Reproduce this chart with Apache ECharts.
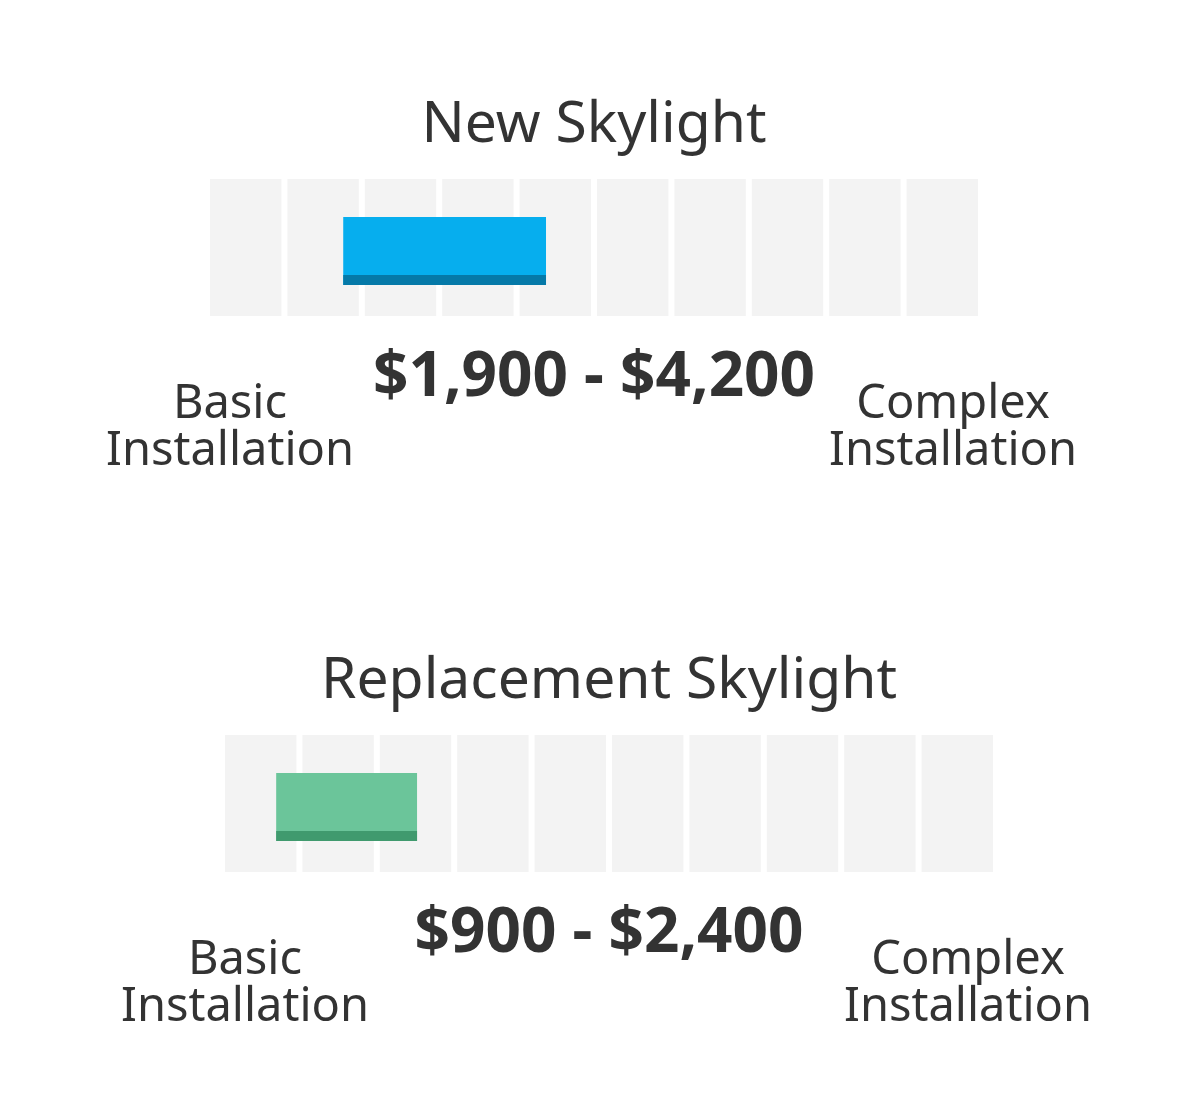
<!DOCTYPE html>
<html>
<head>
<meta charset="utf-8">
<script src="https://cdn.jsdelivr.net/npm/echarts@6/dist/echarts.min.js"></script>
<style>
  html, body { margin: 0; padding: 0; background: #fff; }
  #chart { width: 1200px; height: 1120px; }
</style>
</head>
<body>
<div id="chart"></div>
<script>
// panel data
var panelTitles = ['New Skylight', 'Replacement Skylight'];
var priceLow = [1900, 900];
var priceHigh = [4200, 2400];
// bar extent, measured in cells along the 0..10 scale
var barStart = [1.76, 0.70];
var barEnd = [4.38, 2.52];
var cells = [0, 1, 2, 3, 4, 5, 6, 7, 8, 9];
var leftLabel = 'Basic\nInstallation';
var rightLabel = 'Complex\nInstallation';

var barColors = ['#06aeee', '#6bc59a'];
var stripColors = ['#0579a8', '#409a6e'];

var panels = [
    {left: 207, top: 179},
    {left: 222, top: 735}
];
var gridW = 774, gridH = 137;

function money(v) {
    return '$' + v.toLocaleString('en-US')
}

var chart = echarts.init(document.getElementById('chart'));

var grids = [], xAxes = [], yAxes = [], series = [], graphics = [];

panels.forEach(function (p, i) {
    grids.push({left: p.left, top: p.top, width: gridW, height: gridH});
    xAxes.push({type: 'value', gridIndex: i, min: 0, max: 10, show: false});
    yAxes.push({type: 'value', gridIndex: i, min: 0, max: 1, show: false});

    // grey cells
    series.push({
        type: 'custom',
        xAxisIndex: i,
        yAxisIndex: i,
        silent: true,
        data: cells.map(function (c) { return [c]; }),
        renderItem: function (params, api) {
            var a = api.coord([api.value(0), 1]);
            var b = api.coord([api.value(0) + 1, 0]);
            return {
                type: 'rect',
                shape: {x: a[0] + 3, y: a[1], width: b[0] - a[0] - 6, height: b[1] - a[1]},
                style: {fill: '#f3f3f3'}
            };
        }
    });

    // price range bar with darker bottom strip
    series.push({
        type: 'custom',
        xAxisIndex: i,
        yAxisIndex: i,
        silent: true,
        data: [[barStart[i], barEnd[i]]],
        renderItem: function (params, api) {
            var tl = api.coord([api.value(0), 0.723]);
            var br = api.coord([api.value(1), 0.226]);
            var st = api.coord([api.value(0), 0.299]);
            return {
                type: 'group',
                children: [
                    {
                        type: 'rect',
                        shape: {x: tl[0], y: tl[1], width: br[0] - tl[0], height: br[1] - tl[1]},
                        style: {fill: barColors[i]}
                    },
                    {
                        type: 'rect',
                        shape: {x: tl[0], y: st[1], width: br[0] - tl[0], height: br[1] - st[1]},
                        style: {fill: stripColors[i]}
                    }
                ]
            };
        }
    });

    var cx = p.left + gridW / 2;
    var dy = p.top - 179;
    graphics.push({
        type: 'text', x: cx, y: 126 + dy,
        style: {
            text: panelTitles[i], fill: '#333', font: '57px "Noto Sans"',
            align: 'center', verticalAlign: 'middle'
        }
    });
    graphics.push({
        type: 'text', x: cx, y: 378 + dy,
        style: {
            text: money(priceLow[i]) + ' - ' + money(priceHigh[i]), fill: '#333',
            font: 'bold 62px "Noto Sans"', align: 'center', verticalAlign: 'middle'
        }
    });
    graphics.push({
        type: 'text', x: p.left + 23, y: 428 + dy,
        style: {
            text: leftLabel, fill: '#333', font: '47px "Noto Sans"', lineHeight: 47,
            align: 'center', verticalAlign: 'middle'
        }
    });
    graphics.push({
        type: 'text', x: p.left + gridW - 28, y: 428 + dy,
        style: {
            text: rightLabel, fill: '#333', font: '47px "Noto Sans"', lineHeight: 47,
            align: 'center', verticalAlign: 'middle'
        }
    });
});

chart.setOption({
    animation: false,
    backgroundColor: '#fff',
    grid: grids,
    xAxis: xAxes,
    yAxis: yAxes,
    series: series,
    graphic: graphics
});
</script>
</body>
</html>
